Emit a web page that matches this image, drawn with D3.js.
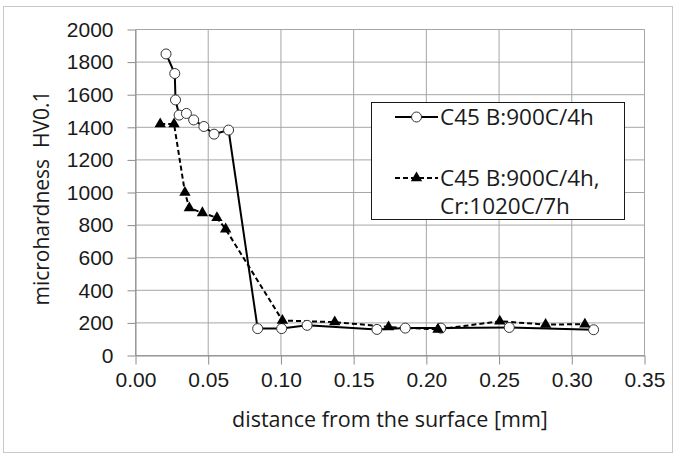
<!DOCTYPE html>
<html>
<head>
<meta charset="utf-8">
<script src="https://cdn.jsdelivr.net/npm/d3@7"></script>
<style>
  html, body { margin: 0; padding: 0; background: #fff; }
  svg { display: block; font-family: 'Open Sans', sans-serif; }
</style>
</head>
<body>
<div id="chart"></div>
<script>
// C45 B:900C/4h  (solid line, open circles)
const boridedX = [0.021, 0.027, 0.0275, 0.030, 0.035, 0.040, 0.047, 0.054, 0.064, 0.084, 0.1005, 0.118, 0.166, 0.1855, 0.210, 0.257, 0.315]
const boridedY = [1850, 1730, 1568, 1475, 1485, 1445, 1405, 1358, 1383, 165, 165, 185, 160, 168, 168, 172, 158]

// C45 B:900C/4h, Cr:1020C/7h  (dashed line, filled triangles)
const chromedX = [0.017, 0.0265, 0.034, 0.037, 0.046, 0.056, 0.062, 0.101, 0.137, 0.174, 0.208, 0.2505, 0.282, 0.309]
const chromedY = [1420, 1420, 1000, 905, 875, 845, 775, 215, 205, 175, 160, 210, 190, 192]

const xTicks = [0, 0.05, 0.10, 0.15, 0.20, 0.25, 0.30, 0.35]
const yTicks = [0, 200, 400, 600, 800, 1000, 1200, 1400, 1600, 1800, 2000]

const legendLabels = [['C45 B:900C/4h'], ['C45 B:900C/4h,', 'Cr:1020C/7h']]
const xTitle = 'distance from the surface [mm]'
const yTitle = 'microhardness  HV0.1'

const width = 677
const height = 457
const margin = { top: 29.5, right: 32.5, bottom: 101.5, left: 135.5 }

const svg = d3.select('#chart')
  .append('svg')
  .attr('width', width)
  .attr('height', height)

// outer chart border
svg.append('rect')
  .attr('x', 3.5).attr('y', 6.5)
  .attr('width', 669).attr('height', 446)
  .attr('fill', 'none')
  .attr('stroke', '#c8c8c8')

const x = d3.scaleLinear()
  .domain([0, 0.35])
  .range([margin.left, width - margin.right])

const y = d3.scaleLinear()
  .domain([0, 2000])
  .range([height - margin.bottom, margin.top])

// grid
const grid = svg.append('g').attr('class', 'grid').attr('stroke', '#a6a6a6').attr('stroke-width', 1)
grid.selectAll('line.h')
  .data(yTicks)
  .join('line')
  .attr('class', 'h')
  .attr('x1', x(0)).attr('x2', x(0.35))
  .attr('y1', d => y(d)).attr('y2', d => y(d))
grid.selectAll('line.v')
  .data(xTicks)
  .join('line')
  .attr('class', 'v')
  .attr('x1', d => x(d)).attr('x2', d => x(d))
  .attr('y1', y(0)).attr('y2', y(2000))

// axes
const xAxis = g => g
  .attr('transform', `translate(0,${y(0)})`)
  .call(d3.axisBottom(x).tickValues(xTicks).tickFormat(d3.format('.2f')).tickSize(9).tickSizeOuter(0).tickPadding(8))
  .call(g => g.selectAll('line, path').attr('stroke', '#8c8c8c'))
  .call(g => g.selectAll('text').attr('font-size', 21).attr('fill', '#1a1a1a').attr('font-family', null))

const yAxis = g => g
  .attr('transform', `translate(${x(0)},0)`)
  .call(d3.axisLeft(y).tickValues(yTicks).tickFormat(d3.format('d')).tickSize(8).tickSizeOuter(0).tickPadding(14))
  .call(g => g.selectAll('line, path').attr('stroke', '#8c8c8c'))
  .call(g => g.selectAll('text').attr('font-size', 21).attr('fill', '#1a1a1a').attr('font-family', null))

svg.append('g').attr('class', 'x').call(xAxis)
svg.append('g').attr('class', 'y').call(yAxis)

// titles
svg.append('text')
  .attr('x', 390).attr('y', 427)
  .attr('text-anchor', 'middle')
  .attr('font-size', 21.5)
  .attr('fill', '#1a1a1a')
  .text(xTitle)

svg.append('text')
  .attr('transform', 'translate(49,198) rotate(-90)')
  .attr('text-anchor', 'middle')
  .attr('font-size', 21)
  .attr('fill', '#1a1a1a')
  .style('white-space', 'pre')
  .text(yTitle)

// lines
const line = d3.line().x(d => x(d[0])).y(d => y(d[1]))
const borided = d3.zip(boridedX, boridedY)
const chromed = d3.zip(chromedX, chromedY)

const marks = svg.append('g').attr('class', 'marks')

marks.append('path')
  .attr('fill', 'none')
  .attr('stroke', '#000')
  .attr('stroke-width', 2)
  .attr('stroke-dasharray', '5,3')
  .attr('d', line(chromed))

marks.append('path')
  .attr('fill', 'none')
  .attr('stroke', '#000')
  .attr('stroke-width', 2)
  .attr('d', line(borided))

const triangle = d3.symbol().type(d3.symbolTriangle).size(56)

marks.selectAll('circle')
  .data(borided)
  .join('circle')
  .attr('cx', d => x(d[0]))
  .attr('cy', d => y(d[1]))
  .attr('r', 5)
  .attr('fill', '#fff')
  .attr('stroke', '#333')
  .attr('stroke-width', 1)

marks.selectAll('path.tri')
  .data(chromed)
  .join('path')
  .attr('class', 'tri')
  .attr('transform', d => `translate(${x(d[0])},${y(d[1])})`)
  .attr('d', triangle)
  .attr('fill', '#000')

// legend
const legend = svg.append('g').attr('class', 'legend')
legend.append('rect')
  .attr('x', 371.5).attr('y', 102.5)
  .attr('width', 253).attr('height', 117)
  .attr('fill', '#fff')
  .attr('stroke', '#1a1a1a')
  .attr('stroke-width', 1)

const legendRows = [117, 178]
legend.append('line')
  .attr('x1', 395).attr('x2', 438).attr('y1', legendRows[0]).attr('y2', legendRows[0])
  .attr('stroke', '#000').attr('stroke-width', 2)
legend.append('circle')
  .attr('cx', 416.5).attr('cy', legendRows[0]).attr('r', 5)
  .attr('fill', '#fff').attr('stroke', '#333')
legend.append('line')
  .attr('x1', 395).attr('x2', 438).attr('y1', legendRows[1]).attr('y2', legendRows[1])
  .attr('stroke', '#000').attr('stroke-width', 2).attr('stroke-dasharray', '5,3')
legend.append('path')
  .attr('transform', `translate(416.5,${legendRows[1]})`)
  .attr('d', triangle)
  .attr('fill', '#000')

legend.selectAll('text')
  .data(legendLabels)
  .join('text')
  .attr('x', 440)
  .attr('y', (d, i) => legendRows[i])
  .attr('font-size', 22.5)
  .attr('fill', '#1a1a1a')
  .selectAll('tspan')
  .data(d => d)
  .join('tspan')
  .attr('x', 440)
  .attr('dy', (d, i) => i === 0 ? '0.35em' : 28)
  .text(d => d)
</script>
</body>
</html>
